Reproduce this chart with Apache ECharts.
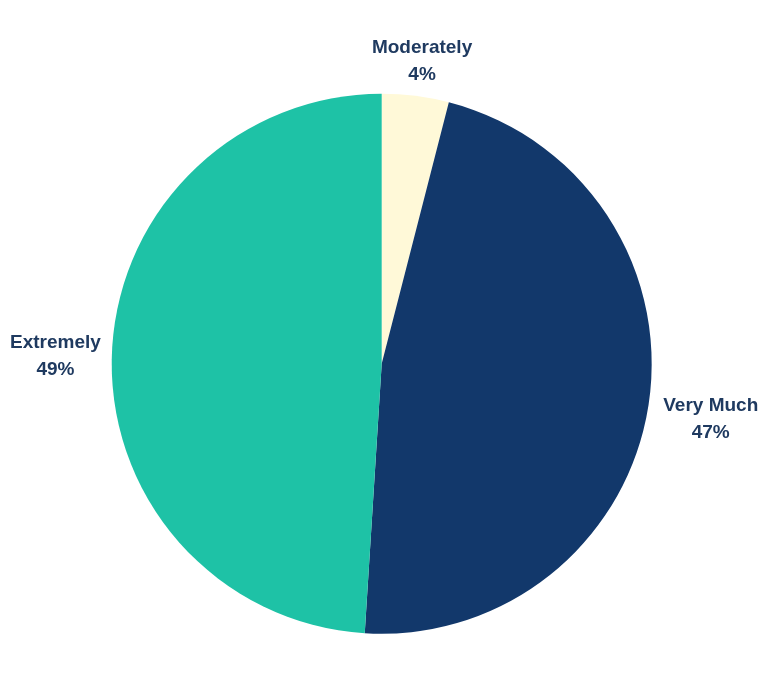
<!DOCTYPE html>
<html>
<head>
<meta charset="utf-8">
<script src="https://cdn.jsdelivr.net/npm/echarts@6/dist/echarts.min.js"></script>
<style>
html, body { margin: 0; padding: 0; background: #fff; }
#main { width: 768px; height: 675px; }
</style>
</head>
<body>
<div id="main"></div>
<script>
var categories = ["Moderately", "Very Much", "Extremely"];
var values = [4, 47, 49];
var colors = ["#FFF9D8", "#12386B", "#1EC2A6"];

var chart = echarts.init(document.getElementById('main'));

var data = [];
for (var i = 0; i < categories.length; i++) {
	data.push({ name: categories[i], value: values[i], itemStyle: { color: colors[i] } });
}

chart.setOption({
	animation: false,
	series: [{
		type: 'pie',
		center: ['49.7%', '53.9%'],
		radius: 270,
		startAngle: 90,
		clockwise: true,
		avoidLabelOverlap: false,
		data: data,
		label: {
			show: true,
			position: 'outside',
			formatter: '{b}\n{d}%',
			fontFamily: 'Liberation Sans, Arial, sans-serif',
			fontWeight: 'bold',
			fontSize: 19,
			lineHeight: 27,
			color: '#1F3A60'
		},
		labelLine: { show: false, length: 12, length2: 0 },
		labelLayout: function (params) {
			var r = params.labelRect;
			if (params.dataIndex === 0) {
				return { align: 'center', verticalAlign: 'bottom', dy: 4 };
			}
			// keep the anchor side but centre the two lines of each label
			return {
				x: r.x + r.width / 2,
				y: r.y + r.height / 2,
				align: 'center',
				verticalAlign: 'middle',
				dx: params.dataIndex === 1 ? -2 : 6,
				dy: params.dataIndex === 1 ? 11 : 1
			};
		}
	}]
});
</script>
</body>
</html>
